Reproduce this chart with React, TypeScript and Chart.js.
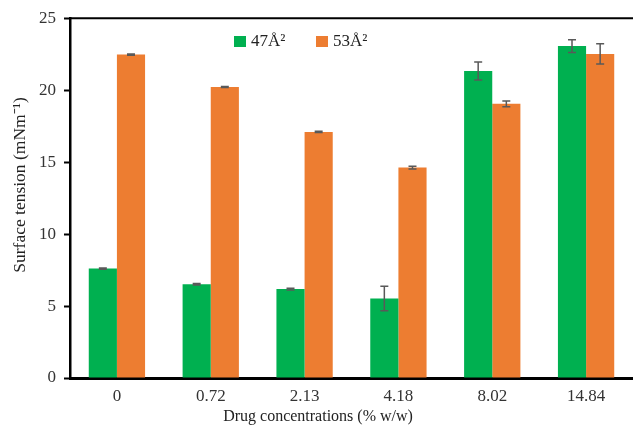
import React, { useEffect, useRef } from "react";
import { Chart, registerables } from "chart.js";

Chart.register(...registerables);

const categories = ["0", "0.72", "2.13", "4.18", "8.02", "14.84"];
const series47 = [7.6, 6.52, 6.18, 5.52, 21.33, 23.06];
const err47 = [0.05, 0.05, 0.06, 0.85, 0.62, 0.45];
const series53 = [22.47, 20.22, 17.1, 14.62, 19.05, 22.52];
const err53 = [0.04, 0.04, 0.05, 0.1, 0.2, 0.7];
const legendLabels = ["47Å²", "53Å²"];
const xTitle = "Drug concentrations (% w/w)";
const yTitle = "Surface tension (mNm⁻¹)";
const colors = ["#00B050", "#ED7D31"];
const errors = [err47, err53];
const FONT = "'Liberation Serif', 'Times New Roman', serif";

const errorBarPlugin = {
  id: "errorBars",
  afterDatasetsDraw(chart: any) {
    const ctx = chart.ctx;
    const y = chart.scales.y;
    ctx.save();
    ctx.strokeStyle = "#595959";
    ctx.lineWidth = 1.5;
    chart.data.datasets.forEach((ds: any, di: number) => {
      const meta = chart.getDatasetMeta(di);
      meta.data.forEach((bar: any, i: number) => {
        const v = ds.data[i];
        const e = errors[di][i];
        const yt = y.getPixelForValue(v + e);
        const yb = y.getPixelForValue(v - e);
        const x = bar.x;
        ctx.beginPath();
        ctx.moveTo(x, yt);
        ctx.lineTo(x, yb);
        ctx.moveTo(x - 4, yt);
        ctx.lineTo(x + 4, yt);
        ctx.moveTo(x - 4, yb);
        ctx.lineTo(x + 4, yb);
        ctx.stroke();
      });
    });
    ctx.restore();
  },
};

const framePlugin = {
  id: "frame",
  afterDraw(chart: any) {
    const ctx = chart.ctx;
    const a = chart.chartArea;
    ctx.save();
    ctx.strokeStyle = "#000";
    ctx.lineWidth = 2;
    ctx.beginPath();
    ctx.moveTo(a.left, a.top);
    ctx.lineTo(chart.width, a.top);
    ctx.stroke();
    // legend
    ctx.font = `17px ${FONT}`;
    ctx.textBaseline = "middle";
    ctx.textAlign = "left";
    ctx.fillStyle = colors[0];
    ctx.fillRect(234, 36, 12, 11);
    ctx.fillStyle = "#222";
    ctx.fillText(legendLabels[0], 251, 42);
    ctx.fillStyle = colors[1];
    ctx.fillRect(316, 36, 12, 11);
    ctx.fillStyle = "#222";
    ctx.fillText(legendLabels[1], 333, 42);
    // axis titles
    ctx.textAlign = "center";
    ctx.fillStyle = "#222";
    ctx.font = `16px ${FONT}`;
    ctx.fillText(xTitle, 318, 417);
    ctx.save();
    ctx.translate(20, 185);
    ctx.rotate(-Math.PI / 2);
    ctx.font = `17.5px ${FONT}`;
    ctx.fillText(yTitle, 0, 0);
    ctx.restore();
    ctx.restore();
  },
};

export default function App() {
  const ref = useRef<HTMLCanvasElement>(null);
  useEffect(() => {
    document.body.style.margin = "0";
    const chart = new Chart(ref.current!, {
      type: "bar",
      data: {
        labels: categories,
        datasets: [
          { label: legendLabels[0], data: series47, backgroundColor: colors[0] },
          { label: legendLabels[1], data: series53, backgroundColor: colors[1] },
        ],
      },
      options: {
        animation: false,
        responsive: false,
        layout: { padding: { top: 18, left: 0, right: 0, bottom: 0 } },
        datasets: { bar: { categoryPercentage: 0.6, barPercentage: 1.0 } },
        plugins: { legend: { display: false }, tooltip: { enabled: false } },
        scales: {
          x: {
            afterFit: (s: any) => { s.height = 49; },
            grid: { display: false },
            border: { color: "#000", width: 3 },
            ticks: { color: "#333", font: { family: FONT, size: 17 }, padding: 0 },
          },
          y: {
            min: 0,
            max: 25,
            afterFit: (s: any) => { s.width = 70; },
            grid: { drawOnChartArea: false, tickLength: 6, tickColor: "#000", tickWidth: 2 },
            border: { color: "#000", width: 2.5 },
            ticks: { stepSize: 5, color: "#333", font: { family: FONT, size: 17 }, padding: 8 },
          },
        },
      },
      plugins: [errorBarPlugin, framePlugin],
    });
    return () => chart.destroy();
  }, []);
  return (
    <div style={{ position: "absolute", left: 0, top: 0, width: 633, height: 427 }}>
      <canvas ref={ref} width={633} height={427} style={{ width: 633, height: 427 }} />
    </div>
  );
}
